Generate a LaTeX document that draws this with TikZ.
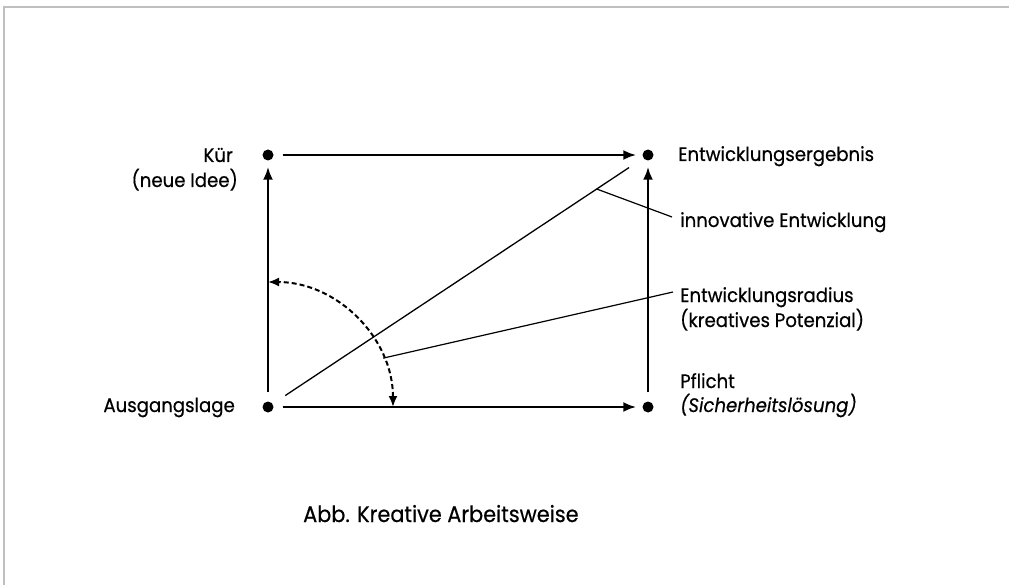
\documentclass[tikz,border=0pt]{standalone}
\usepackage{fontspec}
\setmainfont{Poppins}[FakeStretch=0.93,FakeBold=0.5]
\usetikzlibrary{arrows.meta,calc}
\tikzset{
  dot/.style={circle,fill=black,inner sep=0pt,minimum size=11pt},
  lab/.style={inner sep=0pt,font=\fontsize{19.5}{22}\selectfont},
  mainarrow/.style={line width=2.6pt,-{Latex[length=13pt,width=10pt]},shorten >=6pt,shorten <=9pt},
  diag/.style={line width=1.3pt},
  dasharc/.style={line width=2pt,dash pattern=on 5pt off 3pt,{Latex[length=11pt,width=9pt]}-{Latex[length=11pt,width=9pt]}},
  leader/.style={line width=1.2pt},
  frame/.style={draw=black!25,line width=1.5pt}
}
\begin{document}
\begin{tikzpicture}[x=1pt,y=-1pt]
\useasboundingbox (0,0) rectangle (1009,585);
\draw[frame] (4,585) -- (4,7) -- (1009,7);
% dots
\node[dot] (K) at (268,155) {};
\node[dot] (E) at (648,155) {};
\node[dot] (A) at (268,407) {};
\node[dot] (P) at (648,407) {};
% labels
\node[lab,anchor=base east] (kur) at (233,162) {Kür};
\node[lab,anchor=base east] (idee) at (238,187) {(neue Idee)};
\node[lab,anchor=base east] (aus) at (235,412) {Ausgangslage};
\node[lab,anchor=base west] (erg) at (678,161) {Entwicklungsergebnis};
\node[lab,anchor=base west] (inno) at (680,227) {innovative Entwicklung};
\node[lab,anchor=base west] (rad) at (680,302) {Entwicklungsradius};
\node[lab,anchor=base west] (pot) at (680,327) {(kreatives Potenzial)};
\node[lab,anchor=base west] (pfl) at (680,388) {Pflicht};
\node[lab,anchor=base west] (sich) at (680,412) {\itshape (Sicherheitslösung)};
\node[inner sep=0pt,anchor=base west,font=\fontsize{22.4}{26}\selectfont] (cap) at (303,522) {Abb. Kreative Arbeitsweise};
% main arrows
\draw[mainarrow] (K) -- (E);
\draw[mainarrow] (A) -- (P);
\draw[mainarrow] (A) -- (K);
\draw[mainarrow] (P) -- (E);
% diagonal
\draw[diag,shorten <=15pt,shorten >=17pt] (A) -- (E);
% dashed arc
\coordinate (arcS) at ([xshift=125pt]A.center);
\draw[dasharc] (arcS) arc[start angle=0,end angle=90,radius=125pt];
% leaders
\coordinate (d1) at ($(A)!0.865!(E)$);
\coordinate (a1) at ([shift={(23:125pt)}]A.center);
\draw[leader] (d1) -- ([shift={(-8pt,10pt)}]inno.base west);
\draw[leader] (a1) -- ([shift={(-7pt,10pt)}]rad.base west);
\end{tikzpicture}
\end{document}
